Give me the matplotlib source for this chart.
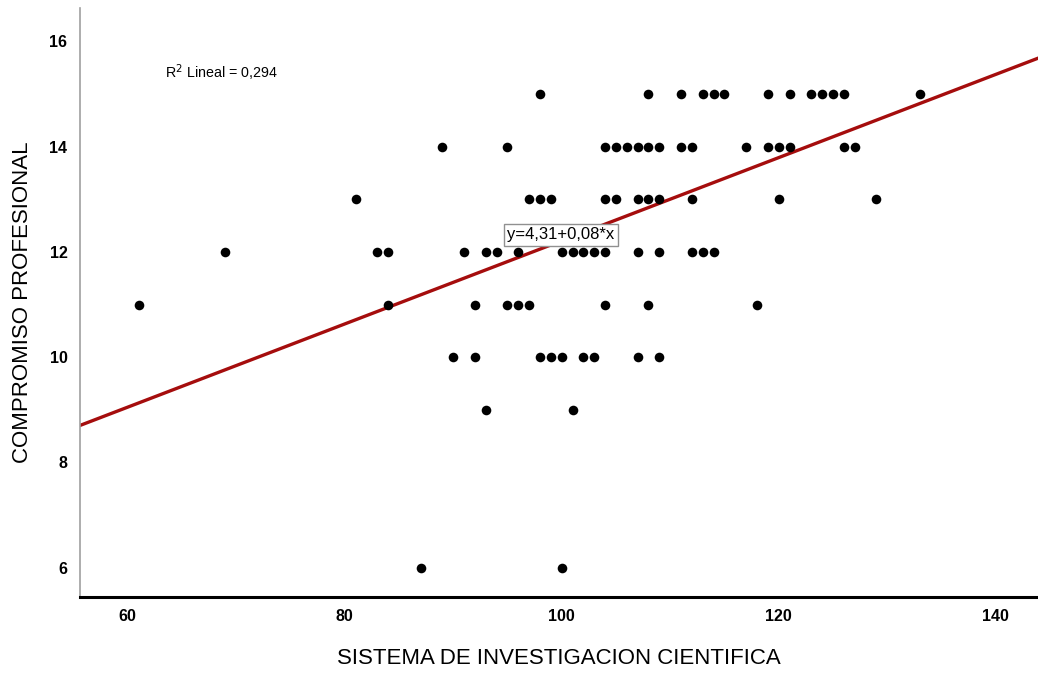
import numpy as np
import matplotlib
matplotlib.use("Agg")
import matplotlib.pyplot as plt

plt.rcParams['font.family'] = ['Liberation Sans', 'DejaVu Sans']

# puntos, agrupados por valor de COMPROMISO PROFESIONAL
x15 = [98, 108, 111, 113, 114, 115, 119, 121, 123, 124, 125, 126, 133]
x14 = [89, 95, 104, 105, 106, 107, 108, 109, 111, 112, 117, 119, 120, 121, 126, 127]
x13 = [81, 97, 98, 99, 104, 105, 107, 108, 109, 112, 120, 129]
x12 = [69, 83, 84, 91, 93, 94, 96, 100, 101, 102, 103, 104, 107, 109, 112, 113, 114]
x11 = [61, 84, 92, 95, 96, 97, 104, 108, 118]
x10 = [90, 92, 98, 99, 100, 102, 103, 107, 109]
x9 = [93, 101]
x6 = [87, 100]

# recta de SPSS (hay puntos repetidos que no se ven, por eso no se reajusta)
intercept = 4.31
slope = 0.079

groups = {15: x15, 14: x14, 13: x13, 12: x12, 11: x11, 10: x10, 9: x9, 6: x6}
xs = np.concatenate([np.array(v, float) for v in groups.values()])
ys = np.concatenate([np.full(len(v), k, float) for k, v in groups.items()])

xlim = (55.6, 143.9)
ylim = (5.45, 16.63)

fig = plt.figure(figsize=(10.38, 6.75), dpi=100)
ax = fig.add_axes([0.077, 0.116, 0.923, 0.872])

ax.scatter(xs, ys, s=48, color='black', zorder=3, linewidths=0)

lx = np.array(xlim)
ax.plot(lx, intercept + slope * lx, color='#a50d0d', lw=2.4, zorder=2)

ax.set_xlim(*xlim)
ax.set_ylim(*ylim)
ax.set_xticks([60, 80, 100, 120, 140])
ax.set_yticks([6, 8, 10, 12, 14, 16])
ax.tick_params(length=0, labelsize=11.5, pad=9)
for lab in ax.get_xticklabels() + ax.get_yticklabels():
    lab.set_fontweight('bold')

for s in ['top', 'right']:
    ax.spines[s].set_visible(False)
ax.spines['left'].set_color('#a0a0a0')
ax.spines['left'].set_linewidth(1.2)
ax.spines['bottom'].set_color('black')
ax.spines['bottom'].set_linewidth(2.2)

ax.set_xlabel('SISTEMA DE INVESTIGACION CIENTIFICA', fontsize=16, labelpad=17)
ax.set_ylabel('COMPROMISO PROFESIONAL', fontsize=16, labelpad=12)

ax.text(0.089, 0.89, 'R$^2$ Lineal = 0,294', transform=ax.transAxes,
        fontsize=10.3, va='center', ha='left')
ax.text(0.446, 0.615, 'y=4,31+0,08*x', transform=ax.transAxes,
        fontsize=12, va='center', ha='left',
        bbox=dict(boxstyle='square,pad=0.2', fc='white', ec='#909090', lw=1))

fig.savefig('out.png', dpi=100)
